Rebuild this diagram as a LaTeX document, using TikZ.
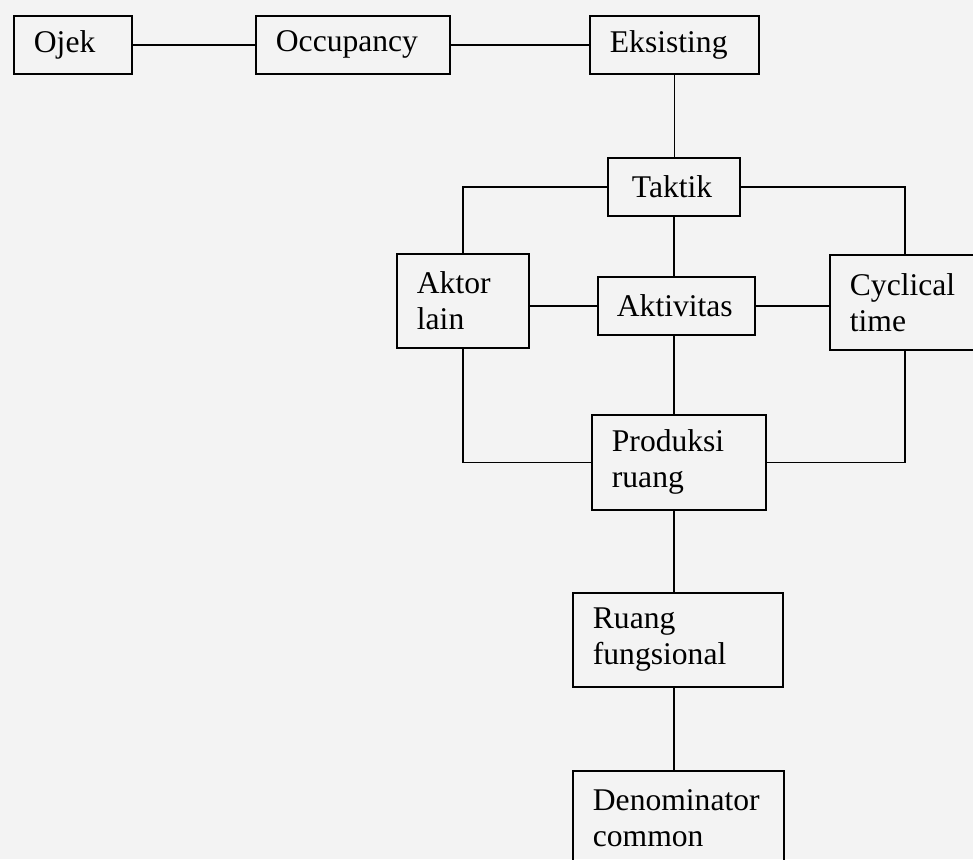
\documentclass[tikz,border=0pt]{standalone}
\usepackage{fontspec}
\setmainfont{Liberation Serif}
\definecolor{bgtone}{HTML}{F3F3F3}
\begin{document}
\begin{tikzpicture}[x=1pt,y=-1pt,
  box/.style={draw, line width=1.8pt, rectangle, anchor=north west,
    inner xsep=20pt, inner ysep=0pt, align=left,
    font=\fontsize{31.6}{36}\selectfont},
  link/.style={line width=1.8pt}]
\useasboundingbox (0,0) rectangle (973,859);
\fill[bgtone] (0,0) rectangle (973,859);
\begin{scope}
\clip (0,0) rectangle (973,859);

% boxes
\node[box, minimum width=118pt, minimum height=58pt, text width=78pt]  (ojek)   at (13,15)  {Ojek};
\node[box, minimum width=194pt, minimum height=58pt, text width=154pt] (occ)    at (255,15) {Occupancy};
\node[box, minimum width=169pt, minimum height=58pt, text width=129pt] (eks)    at (589,15) {Eksisting};
\node[box, minimum width=132pt, minimum height=58pt, inner xsep=24pt, text width=84pt] (taktik) at (607,157) {Taktik};
\node[box, minimum width=132pt, minimum height=94pt, text width=92pt]  (aktor)  at (396,253) {Aktor\\lain};
\node[box, minimum width=157pt, minimum height=58pt, inner xsep=19pt, text width=119pt] (akt) at (597,276) {Aktivitas};
\node[box, minimum width=150pt, minimum height=95pt, text width=110pt] (cyc)    at (829,254) {Cyclical\\time};
\node[box, minimum width=174pt, minimum height=95pt, text width=134pt] (prod)   at (591,414) {Produksi\\ruang};
\node[box, minimum width=210pt, minimum height=94pt, text width=170pt] (ruang)  at (572,592) {Ruang\\fungsional};
\node[box, minimum width=211pt, minimum height=94pt, text width=171pt] (denom)  at (572,770) {Denominator\\common};

% connectors
\draw[link] (ojek.east) -- (occ.west);
\draw[link] (occ.east) -- (eks.west);
\draw[link] (eks.south) -- (eks.south |- taktik.north);
\draw[link] (taktik.west) -| (aktor.north);
\draw[link] (taktik.east) -| (cyc.north);
\draw[link] (taktik.south) -- (taktik.south |- akt.north);
\draw[link] (akt.west) -- (akt.west -| aktor.east);
\draw[link] (akt.east) -- (akt.east -| cyc.west);
\draw[link] (taktik |- akt.south) -- (taktik |- prod.north);
\draw[link] (aktor.south) |- (prod.west);
\draw[link] (cyc.south) |- (prod.east);
\draw[link] (taktik |- prod.south) -- (taktik |- ruang.north);
\draw[link] (taktik |- ruang.south) -- (taktik |- denom.north);
\end{scope}
\end{tikzpicture}
\end{document}
